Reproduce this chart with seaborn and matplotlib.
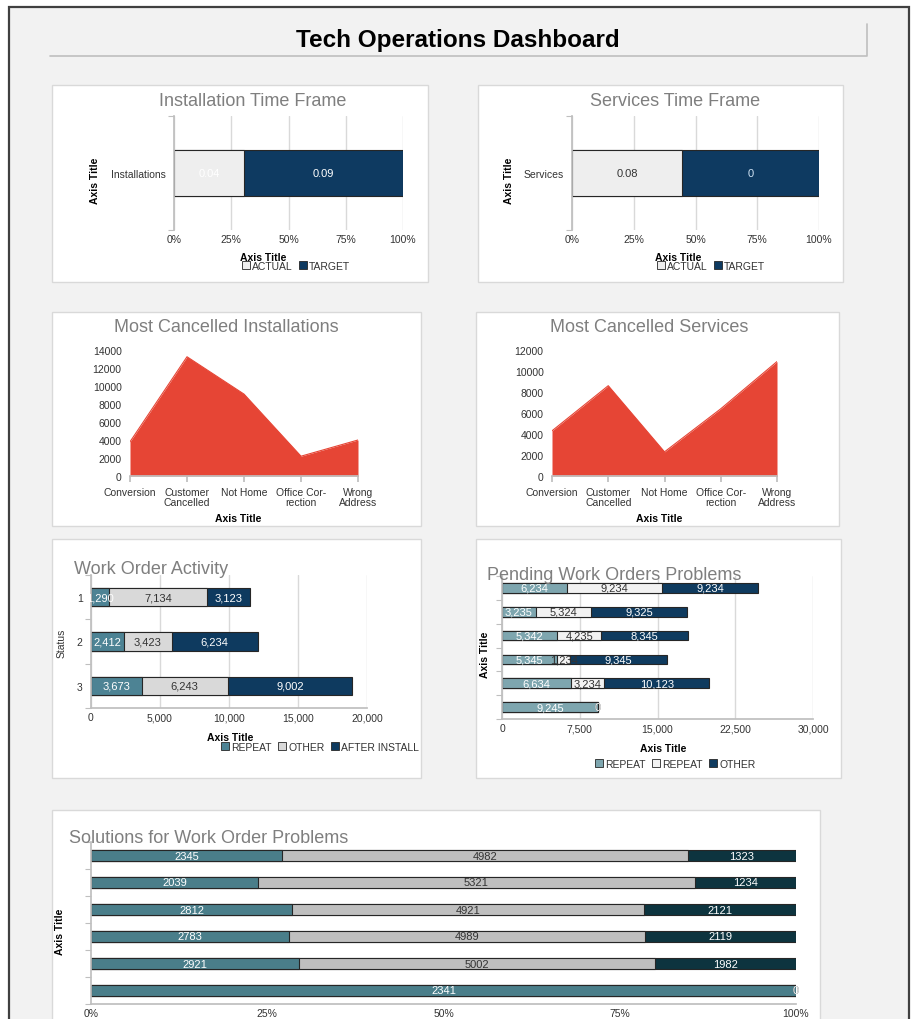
import numpy as np
import matplotlib
matplotlib.use("Agg")
import matplotlib.pyplot as plt
from matplotlib.patches import Rectangle, Patch
from matplotlib.lines import Line2D
import seaborn as sns

W, H = 917, 1020

# --- data ---------------------------------------------------------------
time_kinds = ["ACTUAL", "TARGET"]
install_values = [0.04, 0.09]
install_labels = ["0.04", "0.09"]
service_values = [0.08, 0.10]
service_labels = ["0.08", "0"]

cancel_categories = ["Conversion", "Customer Cancelled", "Not Home",
                     "Office Correction", "Wrong Address"]
cancel_ticklabels = ["Conversion", "Customer\nCancelled", "Not Home",
                     "Office Cor-\nrection", "Wrong\nAddress"]
cancelled_installs = [3800, 13250, 9100, 2200, 4000]
cancelled_services = [4300, 8600, 2300, 6400, 10900]

work_status = ["1", "2", "3"]
work_series = ["REPEAT", "OTHER", "AFTER INSTALL"]
work_repeat = [1290, 2412, 3673]
work_other = [7134, 3423, 6243]
work_after = [3123, 6234, 9002]

pending_rows = ["r1", "r2", "r3", "r4", "r5", "r6"]
pending_series = ["REPEAT", "REPEAT", "OTHER"]
pending_repeat = [6234, 3235, 5342, 5345, 6634, 9245]
pending_repeat2 = [9234, 5324, 4235, 1234, 3234, 0]
pending_other = [9234, 9325, 8345, 9345, 10123, 0]

solution_rows = ["s1", "s2", "s3", "s4", "s5", "s6"]
solution_repeat = [2345, 2039, 2812, 2783, 2921, 2341]
solution_other = [4982, 5321, 4921, 4989, 5002, 0]
solution_after = [1323, 1234, 2121, 2119, 1982, 0]

# --- style --------------------------------------------------------------
sns.set_theme(style="white")
plt.rcParams["font.family"] = ["Liberation Sans", "DejaVu Sans"]

EDGE = "#262626"
GRID = "#d9d9d9"
SPINE = "#bfbfbf"
TXT = "#333333"
TITLE_GRAY = "#7f7f7f"
RED = "#e64535"
FS = 7.5
TITLE_FS = 13

fig = plt.figure(figsize=(W / 100, H / 100), dpi=100)
fig.patch.set_facecolor("white")


def axes_px(x0, y0, x1, y1):
    ax = fig.add_axes([x0 / W, 1 - y1 / H, (x1 - x0) / W, (y1 - y0) / H])
    ax.set_facecolor("none")
    return ax


def text_px(x, y, s, **kw):
    fig.text(x / W, 1 - y / H, s, **kw)


def rect_px(x0, y0, x1, y1, **kw):
    fig.add_artist(Rectangle((x0 / W, 1 - y1 / H), (x1 - x0) / W, (y1 - y0) / H,
                             transform=fig.transFigure, **kw))


def line_px(xs, ys, **kw):
    fig.add_artist(Line2D([x / W for x in xs], [1 - y / H for y in ys],
                          transform=fig.transFigure, **kw))


def legend_px(x, y, names, colors):
    handles = [Patch(facecolor=c, edgecolor=EDGE, linewidth=0.6) for c in colors]
    fig.legend(handles, names, loc="center", bbox_to_anchor=(x / W, 1 - y / H),
               ncol=len(names), frameon=False, fontsize=FS, handlelength=0.8,
               handleheight=0.8, handletextpad=0.2, columnspacing=0.6,
               borderpad=0, labelcolor=TXT)


def stacked_barh(ax, cats, series, colors, width, label_colors, labels=None,
                 normalize=False, fmt="{:,}"):
    data = np.array(series, dtype=float)
    pos = data / data.sum(axis=0) if normalize else data
    cum = pos.cumsum(axis=0)
    # draw cumulative totals back to front so the segments stack
    for i in reversed(range(len(series))):
        sns.barplot(x=cum[i], y=cats, orient="h", color=colors[i], width=width,
                    saturation=1, edgecolor=EDGE, linewidth=0.8, errorbar=None,
                    ax=ax)
    for i in range(len(series)):
        for j in range(len(cats)):
            start = cum[i][j] - pos[i][j]
            s = labels[i][j] if labels is not None else fmt.format(series[i][j])
            ax.text(start + pos[i][j] / 2, j, s, ha="center", va="center",
                    fontsize=FS + 0.5, color=label_colors[i], zorder=5)
    ax.set_xlabel("")
    ax.set_ylabel("")


def boundary_ticks(ax, n):
    ax.set_yticks(np.arange(n + 1) - 0.5, minor=True)
    ax.tick_params(axis="y", which="minor", length=4, color=SPINE, width=0.8,
                   left=True)
    ax.tick_params(axis="y", which="major", length=0)


def style_bar_axes(ax, grid=True, bottom=True):
    for s in ["top", "right"]:
        ax.spines[s].set_visible(False)
    ax.spines["left"].set_color(SPINE)
    ax.spines["bottom"].set_color(SPINE)
    ax.spines["bottom"].set_visible(bottom)
    ax.tick_params(axis="x", length=0, labelsize=FS, labelcolor=TXT, pad=3)
    ax.tick_params(axis="y", labelsize=FS, labelcolor=TXT, pad=6)
    if grid:
        ax.xaxis.grid(True, color=GRID, linewidth=1)
    ax.set_axisbelow(True)


def axis_title(x, y, rotation=0):
    text_px(x, y, "Axis Title", rotation=rotation, ha="center", va="center",
            fontsize=FS, fontweight="bold", color="black")


# --- background ---------------------------------------------------------
rect_px(9, 8, 909, 1030, facecolor="#f2f2f2", edgecolor="#404040",
        linewidth=1.6, zorder=-10)
line_px([50, 867, 867], [57, 57, 25], color=SPINE, linewidth=1.2, zorder=-5)
text_px(458, 41, "Tech Operations Dashboard", ha="center", va="center",
        fontsize=17.5, fontweight="bold", color="black")

for box in [(52, 86, 428, 283), (478, 86, 843, 283), (52, 313, 421, 527),
            (476, 313, 839, 527), (52, 540, 421, 779), (476, 540, 841, 779),
            (52, 811, 820, 1030)]:
    rect_px(*box, facecolor="white", edgecolor=GRID, linewidth=1, zorder=-6)

# --- time frame panels --------------------------------------------------
time_colors = ["#eeeeee", "#0e3a61"]
time_panels = [
    # x0, x1, axis-title x, legend x, ylabel x, title x
    (174, 403, 263, 296, 95, 253, "Installations", install_values,
     install_labels, ["white", "white"], "Installation Time Frame"),
    (572, 819, 678, 711, 509, 675, "Services", service_values,
     service_labels, [TXT, "#cfe2f3"], "Services Time Frame"),
]
for (x0, x1, ax_x, leg_x, yl_x, t_x, cat, vals, labs, lab_cols,
     title) in time_panels:
    ax = axes_px(x0, 117, x1, 231)
    stacked_barh(ax, [cat], [[v] for v in vals], time_colors, 0.41, lab_cols,
                 labels=[[l] for l in labs], normalize=True)
    ax.set_xlim(0, 1)
    ax.set_xticks([0, 0.25, 0.5, 0.75, 1.0],
                  labels=["0%", "25%", "50%", "75%", "100%"])
    style_bar_axes(ax, bottom=False)
    ax.set_ylim(0.5, -0.5)
    boundary_ticks(ax, 1)
    axis_title(ax_x, 258)
    legend_px(leg_x, 267, time_kinds, time_colors)
    axis_title(yl_x, 181, rotation=90)
    text_px(t_x, 102, title, ha="center", va="center", fontsize=TITLE_FS,
            color=TITLE_GRAY)

# --- cancelled panels ---------------------------------------------------
for (x0, x1, ymax, values, title, tcx, acx) in [
    (130, 358, 14000, cancelled_installs, "Most Cancelled Installations", 226, 238),
    (552, 777, 12000, cancelled_services, "Most Cancelled Services", 649, 659),
]:
    ax = axes_px(x0, 351, x1, 477)
    xs = np.arange(len(cancel_categories))
    ax.fill_between(xs, values, color=RED, linewidth=0)
    sns.lineplot(x=xs, y=values, color=RED, linewidth=0.8, ax=ax)
    ax.set_xlim(0, len(xs) - 1)
    ax.set_ylim(0, ymax)
    ax.set_yticks(np.arange(0, ymax + 1, 2000))
    ax.set_xticks(xs, labels=cancel_ticklabels)
    for s in ["top", "right", "left"]:
        ax.spines[s].set_visible(False)
    ax.spines["bottom"].set_color(SPINE)
    ax.tick_params(axis="x", length=4, color=SPINE, labelsize=FS,
                   labelcolor=TXT, pad=4, bottom=True)
    ax.tick_params(axis="y", length=0, labelsize=FS, labelcolor=TXT, pad=6)
    for t in ax.get_xticklabels():
        t.set_linespacing(1.0)
    ax.set_xlabel("")
    ax.set_ylabel("")
    text_px(tcx, 328, title, ha="center", va="center", fontsize=TITLE_FS,
            color=TITLE_GRAY)
    axis_title(acx, 519)

# --- work order activity ------------------------------------------------
work_colors = ["#4d8394", "#d9d9d9", "#0e3a5f"]
ax = axes_px(91, 576, 367, 709)
stacked_barh(ax, work_status, [work_repeat, work_other, work_after],
             work_colors, 0.41, ["white", TXT, "white"])
ax.set_xlim(0, 20000)
ax.set_xticks([0, 5000, 10000, 15000, 20000],
              labels=["0", "5,000", "10,000", "15,000", "20,000"])
style_bar_axes(ax)
ax.set_ylim(2.5, -0.5)
boundary_ticks(ax, 3)
text_px(74, 570, "Work Order Activity", ha="left", va="center",
        fontsize=TITLE_FS, color=TITLE_GRAY)
text_px(62, 643, "Status", rotation=90, ha="center", va="center", fontsize=FS,
        color=TXT)
axis_title(230, 738)
legend_px(320, 748, work_series, work_colors)

# --- pending work orders ------------------------------------------------
pending_colors = ["#7ea6af", "#f2f2f2", "#0f3b5f"]
ax = axes_px(502, 577, 813, 720)
stacked_barh(ax, pending_rows, [pending_repeat, pending_repeat2, pending_other],
             pending_colors, 0.4, ["white", TXT, "white"])
ax.set_xlim(0, 30000)
ax.set_xticks([0, 7500, 15000, 22500, 30000],
              labels=["0", "7,500", "15,000", "22,500", "30,000"])
style_bar_axes(ax)
ax.set_ylim(5.5, -0.5)
ax.set_yticks(range(len(pending_rows)), labels=[""] * len(pending_rows))
boundary_ticks(ax, len(pending_rows))
text_px(487, 575, "Pending Work Orders Problems", ha="left", va="center",
        fontsize=TITLE_FS, color=TITLE_GRAY)
axis_title(485, 655, rotation=90)
axis_title(663, 749)
legend_px(675, 765, pending_series, pending_colors)

# --- solutions ----------------------------------------------------------
solution_colors = ["#4a7e8a", "#bfbfbf", "#0d343f"]
ax = axes_px(91, 843, 796, 1005)
stacked_barh(ax, solution_rows, [solution_repeat, solution_other, solution_after],
             solution_colors, 0.43, ["white", TXT, "white"], normalize=True,
             fmt="{}")
ax.set_xlim(0, 1)
ax.set_xticks([0, 0.25, 0.5, 0.75, 1.0],
              labels=["0%", "25%", "50%", "75%", "100%"])
style_bar_axes(ax, grid=False)
ax.set_ylim(5.5, -0.5)
ax.set_yticks(range(len(solution_rows)), labels=[""] * len(solution_rows))
boundary_ticks(ax, len(solution_rows))
text_px(69, 839, "Solutions for Work Order Problems", ha="left", va="center",
        fontsize=TITLE_FS, color=TITLE_GRAY)
axis_title(60, 932, rotation=90)

fig.savefig("out.png", dpi=100)
